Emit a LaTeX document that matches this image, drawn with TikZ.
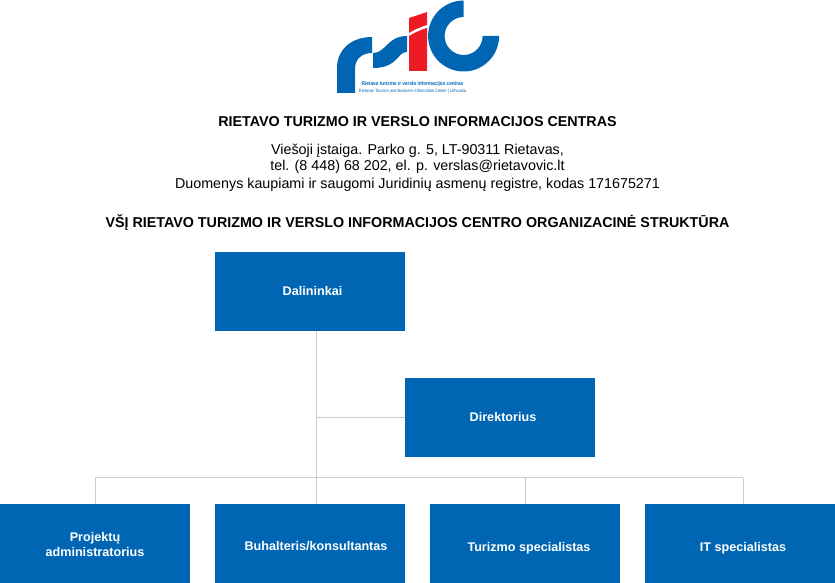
\documentclass[tikz,border=0pt]{standalone}
\usepackage{fontspec}
\setmainfont{Liberation Sans}
\usepackage{xcolor}
\definecolor{boxblue}{HTML}{0066B3}
\definecolor{logored}{HTML}{ED1C24}
\definecolor{linegray}{HTML}{CCCCCC}
\tikzset{
	orgbox/.style={fill=boxblue,text=white,font=\fontsize{12.6}{15.6}\selectfont\bfseries,minimum width=190pt,minimum height=79pt,inner sep=0pt,outer sep=0pt,align=center},
	textdrop/.style={text height=#1,text depth=0pt},
	conn/.style={draw=linegray,line width=1pt},
	logoblue/.style={fill=boxblue},
	titletext/.style={font=\fontsize{14.3}{17}\selectfont\bfseries},
	infotext/.style={font=\fontsize{14.3}{17}\selectfont},
	logotext/.style={text=boxblue,inner sep=0pt,xscale=0.85}
}

\begin{document}
\begin{tikzpicture}[x=1pt,y=-1pt]
		\useasboundingbox (0,0) rectangle (835,583);
		% logo
		\fill[logoblue] (337,93) -- (337,68) .. controls (337,49) and (352,37) .. (372,37) -- (372,53) .. controls (362,53) and (355,59) .. (355,69) -- (355,93) -- cycle;
		\fill[logoblue] (373,53) .. controls (386,53) and (387,36) .. (407,36) -- (407,52) .. controls (397,52) and (398,68) .. (373,68) -- cycle;
		\fill[logored] (409,18) -- (427,12) -- (427,25) .. controls (420,27) and (414,30) .. (409,33) -- cycle;
		\fill[logored] (409,36) .. controls (414,33) and (420,30) .. (427,28) -- (427,71) -- (409,71) -- cycle;
		\fill[logoblue] (463.6,0.5) arc[start angle=-90,end angle=-360,radius=35.5] -- (482.6,36) arc[start angle=0,end angle=270,radius=19] -- cycle;
		\node[logotext,font=\fontsize{5.5}{6}\selectfont\bfseries] (logoA) at (412.5,84) {Rietavo turizmo ir verslo informacijos centras};
		\node[logotext,font=\fontsize{4.6}{5}\selectfont] (logoB) at (412.5,91) {Rietavas Tourism and Business Information Center | Lithuania};
		% heading
		\node[titletext] (title) at (417.5,121.5) {RIETAVO TURIZMO IR VERSLO INFORMACIJOS CENTRAS};
		\node[infotext] (addrA) at (417.5,150.5) {Viešoji įstaiga. Parko g. 5, LT-90311 Rietavas,};
		\node[infotext] (addrB) at (417.5,166.5) {tel. (8 448) 68 202, el. p. verslas@rietavovic.lt};
		\node[infotext] (addrC) at (417.5,185) {Duomenys kaupiami ir saugomi Juridinių asmenų registre, kodas 171675271};
		\node[titletext] (subtitle) at (417.5,223) {VŠĮ RIETAVO TURIZMO IR VERSLO INFORMACIJOS CENTRO ORGANIZACINĖ STRUKTŪRA};
		% boxes
		\node[orgbox,textdrop=8pt] (Dalininkai) at (310,291.5) {\hspace*{5pt}Dalininkai};
		\node[orgbox,textdrop=7pt] (Direktorius) at (500,417.5) {\hspace*{6pt}Direktorius};
		\node[orgbox] (Projektu) at (95,543.5) {\rule{0pt}{11pt}Projektų\\administratorius};
		\node[orgbox,textdrop=14.4pt] (Buhalteris) at (310,543.5) {\hspace*{12pt}Buhalteris/konsultantas};
		\node[orgbox,textdrop=16.4pt] (Turizmo) at (525,543.5) {\hspace*{8pt}Turizmo specialistas};
		\node[orgbox,textdrop=16.4pt] (IT) at (740,543.5) {\hspace*{6pt}IT specialistas};
		%
		\coordinate (branch) at (316,417.5);
		\coordinate (bus) at (316,477.5);
		\coordinate (busend) at (743,477.5);
		\path[conn]
		(bus |- Dalininkai.south) edge (bus)
		(branch) edge (Direktorius.west)
		(bus) edge (bus |- Buhalteris.north)
		(bus) edge (busend)
		(Projektu.north) edge[to path={|- (\tikztotarget)}] (bus)
		(Turizmo.north) edge (Turizmo.north |- bus)
		(busend) edge (busend |- IT.north);
		\end{tikzpicture}
\end{document}
